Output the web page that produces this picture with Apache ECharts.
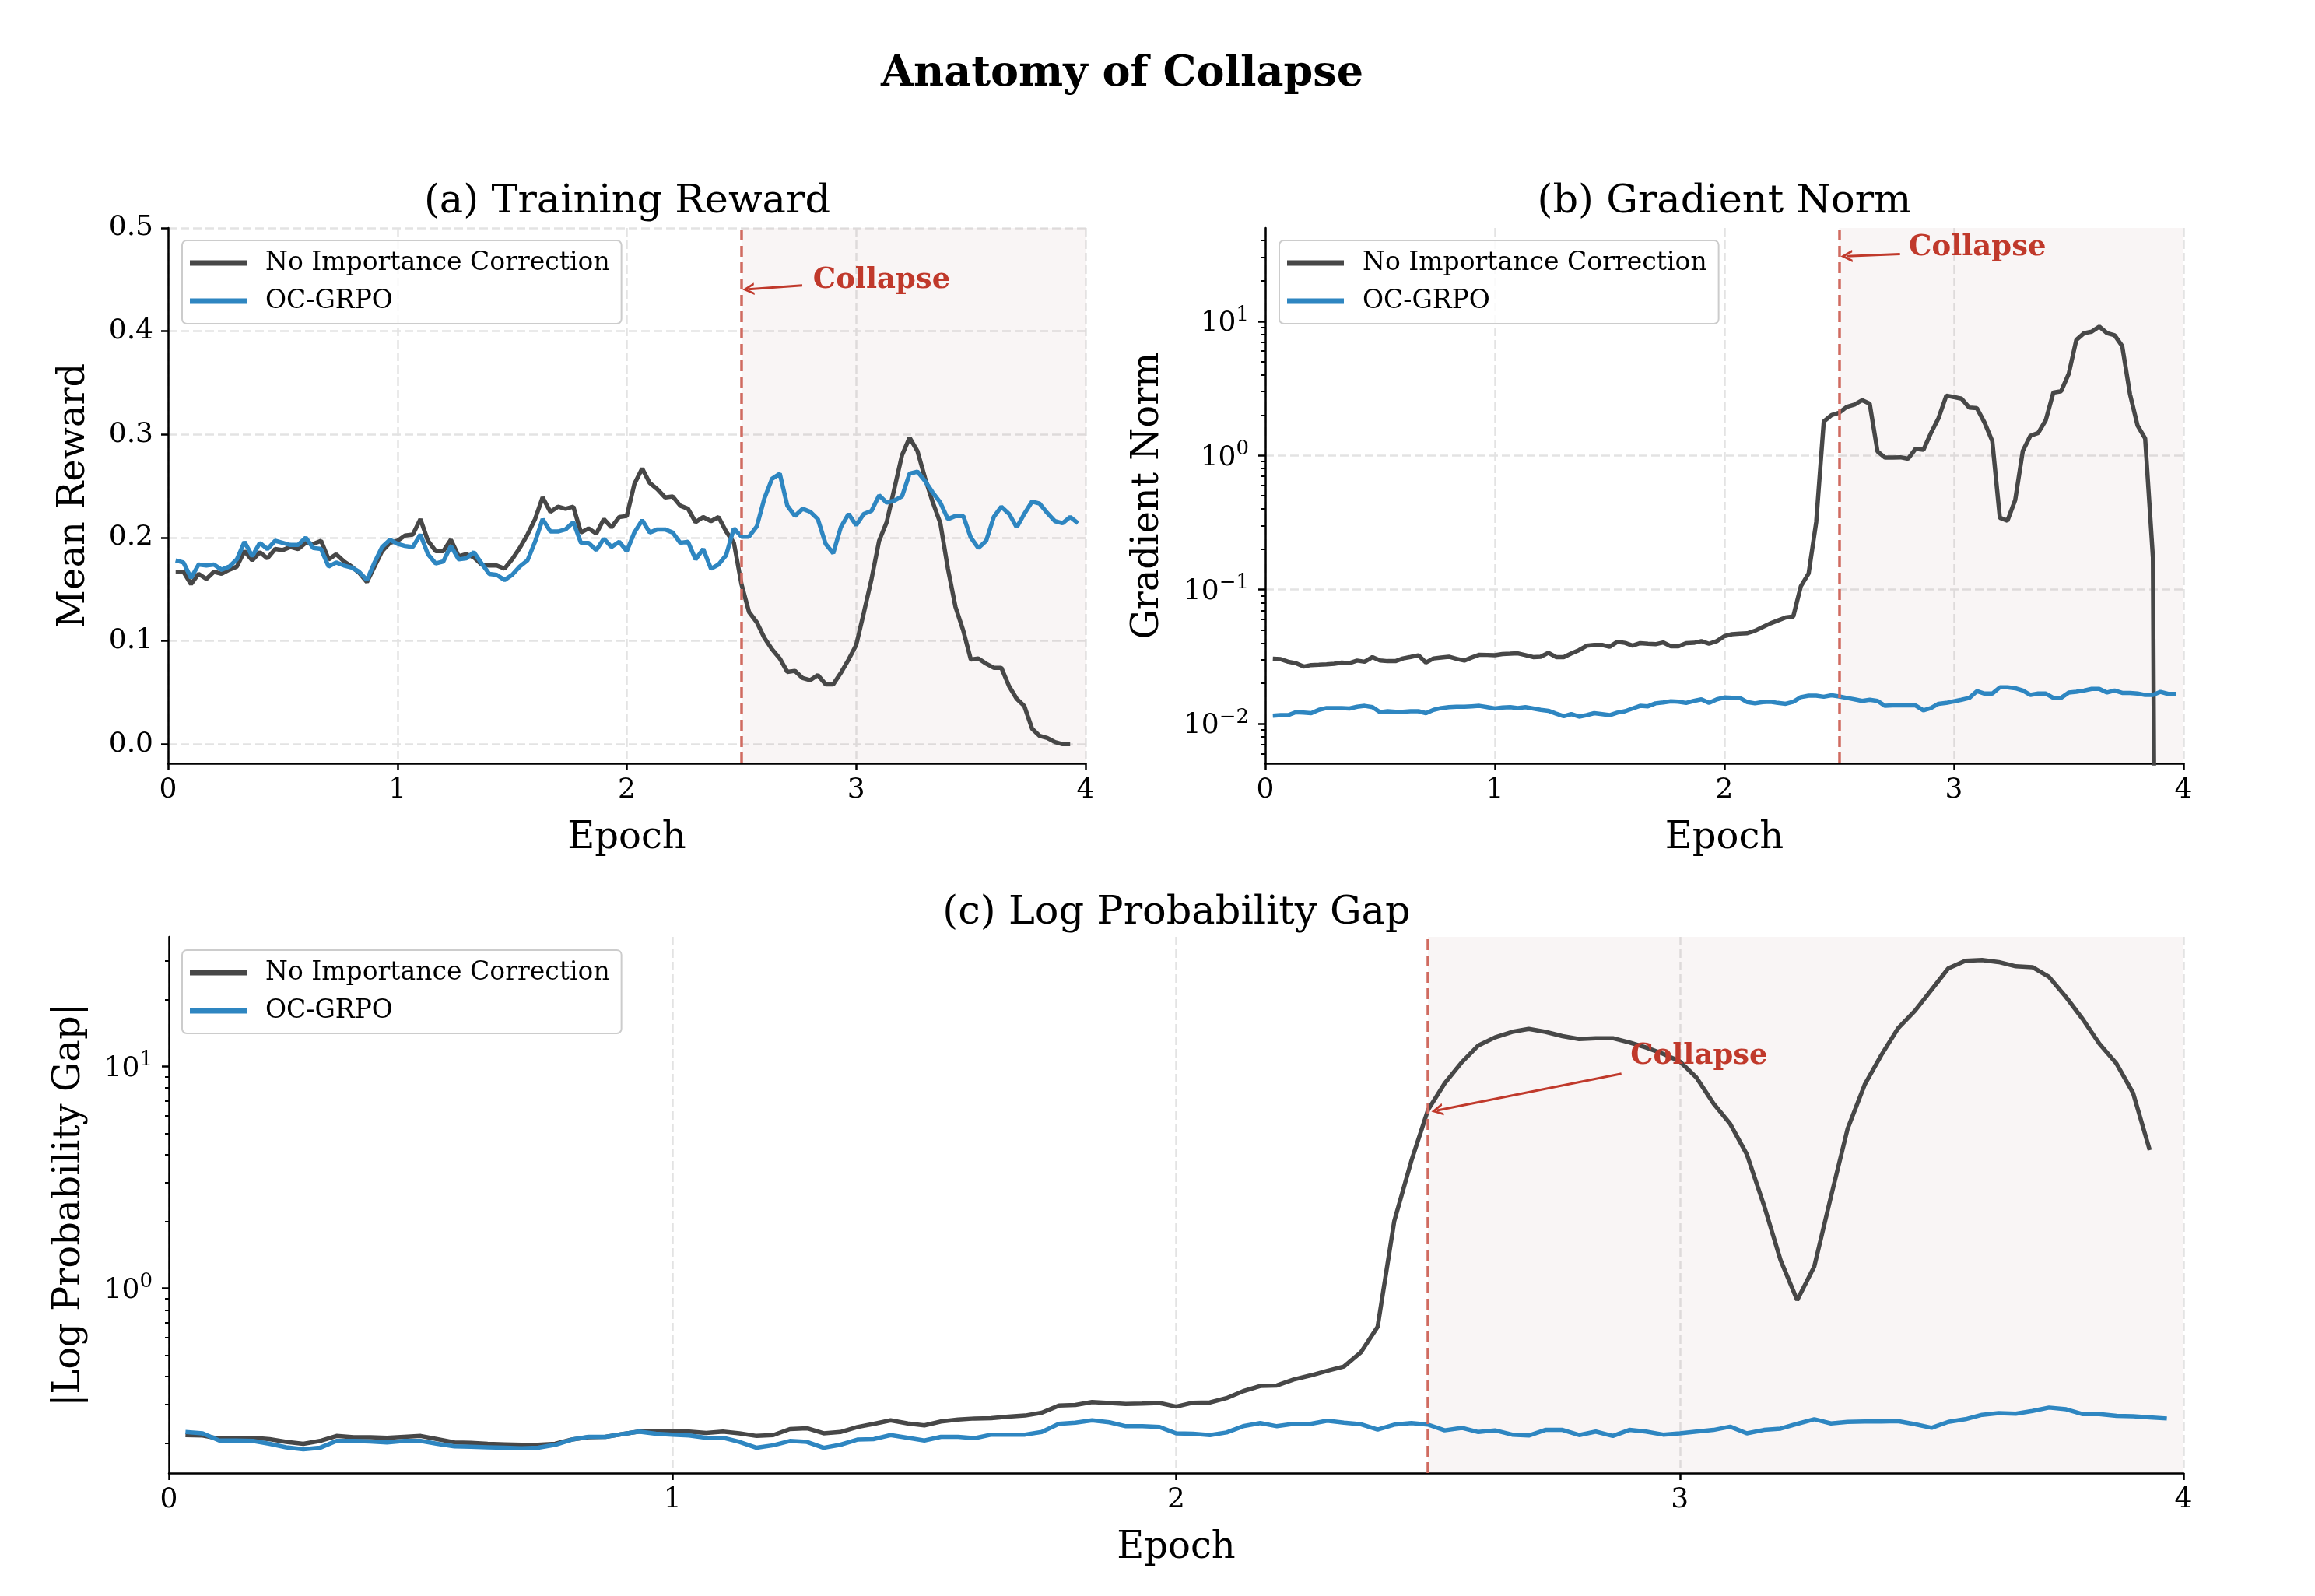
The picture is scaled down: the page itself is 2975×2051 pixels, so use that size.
<!DOCTYPE html>
<html>
<head>
<meta charset="utf-8">
<title>Anatomy of Collapse</title>
<script src="https://cdn.jsdelivr.net/npm/echarts@6.0.0/dist/echarts.min.js"></script>
<style>
html, body { margin: 0; padding: 0; background: #fff; }
#main { width: 2975px; height: 2051px; }
</style>
</head>
<body>
<div id="main"></div>
<script>
const FONT = 'DejaVu Serif';
const BLACK = '#474747';
const BLUE = '#2e86c1';
const RED = '#c0392b';

const seriesNames = ['No Importance Correction', 'OC-GRPO'];

// logged steps, in epochs
const epochs = [
  0.033,0.067,0.1,0.133,0.167,0.2,0.233,0.267,0.3,0.333,0.367,0.4,0.433,0.467,0.5,0.533,0.567,0.6,0.633,0.667,0.7,0.733,0.767,0.8,0.833,0.867,0.9,0.933,0.967,1,
  1.033,1.067,1.1,1.133,1.167,1.2,1.233,1.267,1.3,1.333,1.367,1.4,1.433,1.467,1.5,1.533,1.567,1.6,1.633,1.667,1.7,1.733,1.767,1.8,1.833,1.867,1.9,1.933,1.967,2,
  2.033,2.067,2.1,2.133,2.167,2.2,2.233,2.267,2.3,2.333,2.367,2.4,2.433,2.467,2.5,2.533,2.567,2.6,2.633,2.667,2.7,2.733,2.767,2.8,2.833,2.867,2.9,2.933,2.967,3,
  3.033,3.067,3.1,3.133,3.167,3.2,3.233,3.267,3.3,3.333,3.367,3.4,3.433,3.467,3.5,3.533,3.567,3.6,3.633,3.667,3.7,3.733,3.767,3.8,3.833,3.867,3.9,3.933,3.967
];

// (a) training reward
const rewardNoIC = [
  0.167,0.167,0.155,0.165,0.160,0.167,0.165,0.169,0.172,0.187,
  0.178,0.186,0.180,0.189,0.188,0.191,0.189,0.195,0.194,0.197,
  0.179,0.184,0.177,0.172,0.166,0.157,0.172,0.187,0.195,0.197,
  0.202,0.203,0.218,0.197,0.187,0.187,0.198,0.182,0.184,0.181,
  0.174,0.173,0.173,0.170,0.179,0.190,0.203,0.218,0.239,0.225,
  0.230,0.228,0.230,0.205,0.209,0.204,0.218,0.210,0.220,0.221,
  0.252,0.267,0.253,0.247,0.239,0.240,0.231,0.228,0.215,0.220,
  0.216,0.220,0.206,0.195,0.155,0.128,0.118,0.103,0.092,0.083,
  0.070,0.071,0.064,0.062,0.067,0.058,0.058,0.069,0.082,0.096,
  0.127,0.160,0.197,0.215,0.248,0.280,0.297,0.284,0.258,0.235,
  0.214,0.170,0.133,0.110,0.082,0.083,0.078,0.074,0.074,0.056,
  0.044,0.037,0.015,0.008,0.006,0.002,0.000,0.000
];
const rewardOC = [
  0.178,0.176,0.161,0.174,0.173,0.174,0.169,0.172,0.179,0.196,
  0.182,0.195,0.189,0.197,0.195,0.193,0.193,0.200,0.190,0.189,
  0.172,0.176,0.173,0.171,0.167,0.159,0.176,0.191,0.198,0.194,
  0.192,0.191,0.203,0.184,0.175,0.177,0.192,0.179,0.180,0.186,
  0.175,0.165,0.164,0.159,0.164,0.172,0.178,0.196,0.218,0.206,
  0.206,0.208,0.215,0.195,0.195,0.188,0.199,0.191,0.196,0.187,
  0.205,0.217,0.205,0.208,0.208,0.205,0.195,0.196,0.179,0.189,
  0.170,0.174,0.183,0.209,0.201,0.201,0.211,0.238,0.257,0.262,
  0.231,0.221,0.228,0.225,0.218,0.194,0.185,0.210,0.223,0.212,
  0.223,0.226,0.241,0.234,0.236,0.240,0.262,0.264,0.255,0.244,
  0.234,0.218,0.221,0.221,0.200,0.190,0.197,0.220,0.230,0.223,
  0.210,0.223,0.235,0.233,0.224,0.216,0.214,0.220,0.214
];

// (b) gradient norm
const gradNoIC = [
  0.0305,0.0303,0.0290,0.0283,0.0267,0.0274,0.0275,0.0277,0.0280,0.0286,
  0.0283,0.0296,0.0290,0.0314,0.0296,0.0293,0.0293,0.0307,0.0315,0.0324,
  0.0286,0.0307,0.0312,0.0316,0.0305,0.0296,0.0312,0.0327,0.0326,0.0324,
  0.0331,0.0333,0.0335,0.0325,0.0314,0.0316,0.0338,0.0314,0.0314,0.0334,
  0.0354,0.0382,0.0387,0.0387,0.0375,0.0408,0.0401,0.0383,0.0399,0.0395,
  0.0392,0.0404,0.0378,0.0378,0.0399,0.0401,0.0413,0.0395,0.0413,0.0450,
  0.0465,0.0470,0.0473,0.0493,0.0526,0.0560,0.0589,0.0620,0.0630,0.106,
  0.132,0.318,1.79,2.00,2.08,2.30,2.39,2.58,2.43,1.07,
  0.963,0.963,0.968,0.944,1.12,1.10,1.47,1.90,2.79,2.72,
  2.65,2.27,2.25,1.76,1.28,0.343,0.326,0.466,1.08,1.40,
  1.47,1.83,2.94,3.01,4.05,7.25,8.15,8.36,9.12,8.15,
  7.86,6.54,2.86,1.67,1.34,0.172,0,0,0
];
const gradOC = [
  0.0115,0.0116,0.0116,0.0122,0.0121,0.0120,0.0127,0.0131,0.0131,0.0131,
  0.0130,0.0134,0.0136,0.0133,0.0122,0.0124,0.0123,0.0123,0.0124,0.0124,
  0.0120,0.0127,0.0131,0.0133,0.0134,0.0134,0.0135,0.0136,0.0133,0.0130,
  0.0132,0.0133,0.0131,0.0133,0.0130,0.0127,0.0125,0.0119,0.0114,0.0118,
  0.0113,0.0116,0.0120,0.0118,0.0116,0.0121,0.0124,0.0130,0.0136,0.0135,
  0.0142,0.0144,0.0147,0.0146,0.0143,0.0148,0.0152,0.0143,0.0152,0.0157,
  0.0156,0.0156,0.0145,0.0142,0.0145,0.0146,0.0143,0.0141,0.0146,0.0158,
  0.0162,0.0162,0.0159,0.0163,0.0160,0.0156,0.0152,0.0148,0.0151,0.0148,
  0.0136,0.0137,0.0137,0.0137,0.0137,0.0126,0.0131,0.0141,0.0143,0.0147,
  0.0151,0.0156,0.0175,0.0168,0.0168,0.0187,0.0187,0.0184,0.0177,0.0164,
  0.0168,0.0168,0.0156,0.0156,0.0171,0.0173,0.0177,0.0182,0.0182,0.0171,
  0.0177,0.0170,0.0170,0.0168,0.0164,0.0164,0.0173,0.0167,0.0167
];

// (c) |log probability gap|
const gapNoIC = [
  0.218,0.217,0.210,0.212,0.212,0.209,0.203,0.199,0.205,0.216,
  0.213,0.213,0.212,0.214,0.216,0.209,0.202,0.201,0.199,0.198,
  0.197,0.197,0.199,0.208,0.213,0.214,0.220,0.226,0.226,0.226,
  0.226,0.223,0.226,0.222,0.216,0.218,0.232,0.234,0.222,0.225,
  0.237,0.245,0.254,0.246,0.241,0.251,0.256,0.259,0.260,0.264,
  0.267,0.275,0.296,0.298,0.307,0.304,0.301,0.302,0.304,0.293,
  0.305,0.306,0.320,0.344,0.363,0.365,0.388,0.405,0.425,0.444,
  0.516,0.671,2.01,3.76,6.37,8.39,10.45,12.45,13.53,14.33,
  14.77,14.33,13.71,13.30,13.42,13.42,12.84,12.18,11.41,10.54,
  8.92,6.80,5.51,4.02,2.37,1.34,0.885,1.256,2.59,5.23,
  8.28,11.26,14.84,17.84,22.22,27.67,29.94,30.2,29.55,28.28,
  28.03,25.34,20.53,16.34,12.67,10.31,7.59,4.20
];
const gapOC = [
  0.225,0.222,0.206,0.206,0.205,0.199,0.192,0.188,0.191,0.205,
  0.205,0.204,0.202,0.205,0.205,0.199,0.194,0.193,0.192,0.191,
  0.190,0.191,0.197,0.208,0.214,0.214,0.220,0.226,0.221,0.219,
  0.217,0.212,0.212,0.203,0.191,0.196,0.205,0.203,0.191,0.197,
  0.208,0.209,0.218,0.212,0.206,0.214,0.214,0.211,0.219,0.219,
  0.219,0.225,0.245,0.248,0.254,0.249,0.239,0.239,0.237,0.222,
  0.221,0.218,0.224,0.239,0.247,0.239,0.245,0.245,0.253,0.248,
  0.244,0.231,0.243,0.247,0.243,0.229,0.235,0.225,0.229,0.219,
  0.217,0.230,0.230,0.218,0.226,0.216,0.230,0.226,0.219,0.222,
  0.226,0.230,0.238,0.222,0.230,0.233,0.245,0.257,0.246,0.250,
  0.251,0.251,0.252,0.244,0.235,0.250,0.257,0.269,0.274,0.272,
  0.280,0.290,0.285,0.271,0.271,0.266,0.265,0.262,0.259
];

const rewardTicks = [0, 0.1, 0.2, 0.3, 0.4, 0.5];
const gradTicks = [0.01, 0.1, 1, 10];
const gapTicks = [1, 10];
const collapseEpoch = 2.5;

// log panels are drawn on value axes in log10 space
const lg = v => Math.log10(Math.max(v, 1e-12));
const lin = vals => vals.map((v, i) => [epochs[i], v]);
const logd = vals => vals.map((v, i) => [epochs[i], lg(v)]);

function minorLogTicks(lo, hi) {
  const out = [];
  for (let e = Math.floor(Math.log10(lo)); e <= Math.ceil(Math.log10(hi)); e++) {
    for (let m = 2; m <= 9; m++) {
      const v = m * Math.pow(10, e);
      if (v > lo && v < hi) out.push(lg(v));
    }
  }
  return out;
}
function powLabel(v) {
  const e = Math.round(v);
  return '{b|10}{s|' + (e < 0 ? '\u2212' + (-e) : e) + '}';
}

const dash = { color: '#e3e3e3', width: 2.5, type: [11, 5] };
const spine = { color: '#000', width: 2.5 };
const labelRich = {
  b: { fontFamily: FONT, fontSize: 36, color: '#000', lineHeight: 42, verticalAlign: 'bottom' },
  s: { fontFamily: FONT, fontSize: 26, color: '#000', lineHeight: 26, verticalAlign: 'top' }
};

function xAxis(grid) {
  return {
    gridIndex: grid, type: 'value', min: 0, max: 4, interval: 1,
    name: 'Epoch', nameLocation: 'middle', nameGap: 69,
    nameTextStyle: { fontFamily: FONT, fontSize: 48, color: '#000', lineHeight: 56 },
    axisLine: { show: true, onZero: false, lineStyle: spine },
    axisTick: { show: true, length: 9, lineStyle: spine },
    axisLabel: { show: true, fontFamily: FONT, fontSize: 36, color: '#000', margin: 17 },
    splitLine: { show: true, lineStyle: dash }
  };
}
function yAxisLin(grid, name, gap, min, max, ticks) {
  return {
    gridIndex: grid, type: 'value', position: 'left', min, max,
    name, nameLocation: 'middle', nameGap: gap,
    nameTextStyle: { fontFamily: FONT, fontSize: 48, color: '#000', lineHeight: 56 },
    axisLine: { show: true, onZero: false, lineStyle: spine },
    axisTick: { show: true, length: 9, lineStyle: spine, customValues: ticks },
    axisLabel: { show: true, customValues: ticks, fontFamily: FONT, fontSize: 36, color: '#000', margin: 19,
      formatter: v => v.toFixed(1) },
    splitLine: { show: true, lineStyle: dash }
  };
}
function yAxisLog(grid, name, gap, min, max, ticks) {
  const t = ticks.map(lg);
  return {
    gridIndex: grid, type: 'value', position: 'left', min: lg(min), max: lg(max),
    name, nameLocation: 'middle', nameGap: gap,
    nameTextStyle: { fontFamily: FONT, fontSize: 48, color: '#000', lineHeight: 56 },
    axisLine: { show: true, onZero: false, lineStyle: spine },
    axisTick: { show: true, length: 9, lineStyle: spine, customValues: t },
    axisLabel: { show: true, customValues: t, margin: 21, formatter: powLabel, rich: labelRich },
    splitLine: { show: true, showMinLine: false, showMaxLine: false, lineStyle: dash }
  };
}
function yAxisMinor(grid, min, max) {
  return {
    gridIndex: grid, type: 'value', position: 'left', min: lg(min), max: lg(max),
    axisLine: { show: false, onZero: false },
    axisTick: { show: true, length: 5, lineStyle: { color: '#000', width: 2 }, customValues: minorLogTicks(min, max) },
    axisLabel: { show: false },
    splitLine: { show: false }
  };
}

const ARROW = 'path://M6,0 L12,10 L9.6,10 L6,4 L2.4,10 L0,10 Z';
function collapseMarks(textAt, arrowFrom, arrowTo) {
  const arrowStyle = { color: RED, width: 3, type: 'solid' };
  return {
    markArea: {
      silent: true, itemStyle: { color: 'rgba(139,69,69,0.055)' },
      data: [[{ xAxis: collapseEpoch }, { xAxis: 4 }]]
    },
    markLine: {
      silent: true, symbol: 'none', label: { show: false }, animation: false,
      data: [
        { xAxis: collapseEpoch, lineStyle: { color: '#d06b60', width: 3.5, type: [14, 7] } },
        [
          { coord: arrowFrom, symbol: 'none', lineStyle: arrowStyle },
          { coord: arrowTo, symbol: ARROW, symbolSize: [16, 15], lineStyle: arrowStyle }
        ]
      ]
    },
    markPoint: {
      silent: true, animation: false,
      data: [{
        coord: textAt, symbol: 'circle', symbolSize: 1, itemStyle: { color: 'rgba(0,0,0,0)' },
        label: { show: true, position: 'right', distance: 0, formatter: 'Collapse', color: RED,
          fontFamily: FONT, fontWeight: 'bold', fontSize: 37 }
      }]
    }
  };
}

function line(name, color, xi, yi, data, extra) {
  return Object.assign({
    type: 'line', name, xAxisIndex: xi, yAxisIndex: yi, data,
    symbol: 'none', showSymbol: false, clip: true, silent: true,
    lineStyle: { color, width: 5.5 }, itemStyle: { color },
    emphasis: { disabled: true }
  }, extra || {});
}

function legendAt(left, top) {
  return {
    data: seriesNames, left, top, orient: 'vertical', icon: 'rect',
    itemWidth: 73, itemHeight: 7, itemGap: 13, padding: [11, 15, 11, 10],
    backgroundColor: 'rgba(255,255,255,0.8)', borderColor: '#cccccc', borderWidth: 2, borderRadius: 6,
    selectedMode: false,
    textStyle: { fontFamily: FONT, fontSize: 33, color: '#000', lineHeight: 36, padding: [0, 0, 0, 19] }
  };
}
function titleAt(text, x, top, size, weight) {
  return { text, left: x, top, textAlign: 'center', padding: 0,
    textStyle: { fontFamily: FONT, fontSize: size, fontWeight: weight, color: '#000', lineHeight: 60 } };
}

const chart = echarts.init(document.getElementById('main'), null, { renderer: 'canvas' });
chart.setOption({
  backgroundColor: '#fff',
  animation: false,
  title: [
    titleAt('Anatomy of Collapse', 1442, 66, 54, 'bold'),
    titleAt('(a) Training Reward', 806, 230, 51, 'normal'),
    titleAt('(b) Gradient Norm', 2216, 230, 51, 'normal'),
    titleAt('(c) Log Probability Gap', 1512, 1144, 51, 'normal')
  ],
  legend: [legendAt(234, 309), legendAt(1644, 309), legendAt(234, 1221)],
  grid: [
    { left: 216, top: 293, width: 1179, height: 688, containLabel: false, outerBoundsMode: 'none' },
    { left: 1626, top: 293, width: 1180, height: 688, containLabel: false, outerBoundsMode: 'none' },
    { left: 217, top: 1204, width: 2589, height: 689, containLabel: false, outerBoundsMode: 'none' }
  ],
  xAxis: [xAxis(0), xAxis(1), xAxis(2)],
  yAxis: [
    yAxisLin(0, 'Mean Reward', 92, -0.0186, 0.5, rewardTicks),
    yAxisLog(1, 'Gradient Norm', 122, 0.00507, 49.5, gradTicks),
    yAxisMinor(1, 0.00507, 49.5),
    yAxisLog(2, '|Log Probability Gap|', 99, 0.147, 38.4, gapTicks),
    yAxisMinor(2, 0.147, 38.4)
  ],
  series: [
    line(seriesNames[0], BLACK, 0, 0, lin(rewardNoIC),
      collapseMarks([2.81, 0.449], [2.765, 0.4445], [2.53, 0.4407])),
    line(seriesNames[1], BLUE, 0, 0, lin(rewardOC)),
    line(seriesNames[0], BLACK, 1, 1, logd(gradNoIC),
      collapseMarks([2.802, lg(35.3)], [2.765, lg(31.7)], [2.532, lg(30.5)])),
    line(seriesNames[1], BLUE, 1, 1, logd(gradOC)),
    line(seriesNames[0], BLACK, 2, 3, logd(gapNoIC),
      collapseMarks([2.901, lg(11.1)], [2.884, lg(9.28)], [2.518, lg(6.34)])),
    line(seriesNames[1], BLUE, 2, 3, logd(gapOC))
  ]
});
</script>
</body>
</html>
